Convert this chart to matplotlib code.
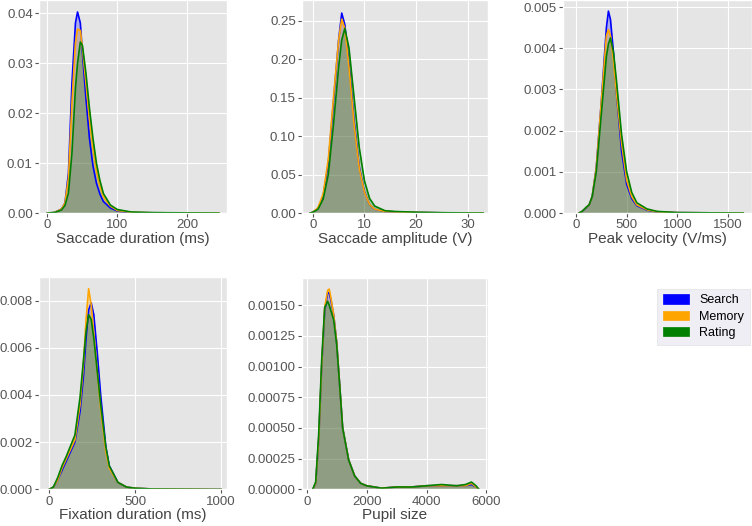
import matplotlib.pyplot as plt
from matplotlib.patches import Patch

plt.style.use("ggplot")
plt.rcParams["font.family"] = ["Liberation Sans", "DejaVu Sans"]

tasks = ["Search", "Memory", "Rating"]
colors = ["blue", "orange", "green"]

# density curves: x grid + one density list per task
sacc_dur_x = [0, 10, 20, 25, 30, 35, 40, 43, 47, 50, 55, 60, 65, 70, 75, 80, 90, 100, 120, 150, 200, 245]
sacc_dur = {
    "Search": [0, 0.0001, 0.0008, 0.002, 0.008, 0.026, 0.038, 0.0402, 0.038, 0.032, 0.023, 0.015, 0.0095, 0.006, 0.0038, 0.0023, 0.001, 0.0004, 0.0001, 0.00005, 0.00002, 0],
    "Memory": [0, 0.0001, 0.0008, 0.002, 0.007, 0.022, 0.034, 0.0368, 0.0365, 0.033, 0.026, 0.019, 0.013, 0.0085, 0.0055, 0.0033, 0.0014, 0.0005, 0.00015, 0.00005, 0.00002, 0],
    "Rating": [0, 0.0001, 0.0006, 0.0015, 0.004, 0.012, 0.025, 0.030, 0.0342, 0.0335, 0.028, 0.021, 0.015, 0.010, 0.0065, 0.0039, 0.0016, 0.0007, 0.0002, 0.00008, 0.00003, 0],
}

sacc_amp_x = [-0.5, 0, 1, 2, 3, 4, 5, 5.6, 6.2, 7, 8, 9, 10, 11, 12, 14, 16, 20, 25, 33]
sacc_amp = {
    "Search": [0, 0.001, 0.006, 0.022, 0.065, 0.145, 0.225, 0.26, 0.245, 0.195, 0.12, 0.06, 0.028, 0.011, 0.005, 0.002, 0.0015, 0.0008, 0.0003, 0],
    "Memory": [0, 0.001, 0.007, 0.025, 0.07, 0.15, 0.225, 0.252, 0.24, 0.19, 0.115, 0.058, 0.027, 0.011, 0.005, 0.002, 0.0015, 0.0008, 0.0003, 0],
    "Rating": [0, 0.001, 0.005, 0.018, 0.05, 0.115, 0.19, 0.225, 0.24, 0.215, 0.15, 0.085, 0.042, 0.019, 0.009, 0.003, 0.002, 0.001, 0.0004, 0],
}

peak_vel_x = [30, 60, 100, 130, 160, 200, 250, 300, 320, 340, 370, 400, 450, 500, 550, 600, 700, 800, 1000, 1300, 1650]
peak_vel = {
    "Search": [0, 0.00004, 0.00012, 0.0002, 0.0004, 0.0011, 0.0027, 0.0045, 0.0049, 0.0047, 0.0039, 0.0029, 0.0015, 0.0007, 0.00035, 0.00018, 0.00007, 0.00003, 0.00001, 0.000005, 0],
    "Memory": [0, 0.00004, 0.00013, 0.0002, 0.0004, 0.0011, 0.0027, 0.0043, 0.00445, 0.0043, 0.0037, 0.0029, 0.0017, 0.0008, 0.0004, 0.0002, 0.00008, 0.00003, 0.00001, 0.000005, 0],
    "Rating": [0, 0.00004, 0.00014, 0.0002, 0.0004, 0.001, 0.0024, 0.0038, 0.0041, 0.00425, 0.0039, 0.0032, 0.0019, 0.0010, 0.0005, 0.00025, 0.0001, 0.00004, 0.00001, 0.000005, 0],
}

fix_dur_x = [0, 25, 50, 75, 100, 150, 180, 200, 215, 230, 245, 260, 280, 300, 330, 350, 400, 450, 500, 600, 800, 1000]
fix_dur = {
    "Search": [0, 0.0001, 0.0004, 0.0008, 0.0012, 0.002, 0.0033, 0.0048, 0.0064, 0.0076, 0.0079, 0.0074, 0.0058, 0.0040, 0.0018, 0.0010, 0.0003, 0.0001, 0.00005, 0.00002, 0.00001, 0],
    "Memory": [0, 0.0001, 0.0004, 0.0009, 0.0013, 0.0021, 0.0036, 0.0053, 0.0072, 0.0085, 0.0078, 0.0066, 0.0050, 0.0034, 0.0016, 0.0009, 0.0003, 0.0001, 0.00005, 0.00002, 0.00001, 0],
    "Rating": [0, 0.0001, 0.0005, 0.001, 0.0014, 0.0023, 0.0039, 0.0055, 0.0067, 0.0074, 0.0072, 0.0064, 0.0050, 0.0036, 0.0018, 0.0010, 0.0003, 0.0001, 0.00005, 0.00002, 0.00001, 0],
}

pupil_x = [200, 300, 400, 500, 600, 700, 750, 800, 900, 1000, 1100, 1200, 1400, 1600, 1800, 2000, 2500, 3000, 3500, 4000, 4500, 5000, 5300, 5500, 5650, 5750]
pupil = {
    "Search": [0, 0.00005, 0.0004, 0.001, 0.00145, 0.0016, 0.0016, 0.00155, 0.00142, 0.0012, 0.00085, 0.0005, 0.00024, 0.00011, 0.00005, 0.00003, 0.00001, 0.00002, 0.00002, 0.00003, 0.00003, 0.00003, 0.00003, 0.00004, 0.00002, 0],
    "Memory": [0, 0.00005, 0.0004, 0.001, 0.00148, 0.00162, 0.00163, 0.00157, 0.00142, 0.0012, 0.00085, 0.0005, 0.00024, 0.00011, 0.00005, 0.00003, 0.00001, 0.00002, 0.00002, 0.00003, 0.00003, 0.00003, 0.00003, 0.00005, 0.00002, 0],
    "Rating": [0, 0.00006, 0.00045, 0.00105, 0.00148, 0.00153, 0.0015, 0.00146, 0.00138, 0.00118, 0.00085, 0.0005, 0.00024, 0.00011, 0.00005, 0.00003, 0.00001, 0.00002, 0.00002, 0.00003, 0.00004, 0.00003, 0.00004, 0.00006, 0.00003, 0],
}

panels = [
    ("Saccade duration (ms)", sacc_dur_x, sacc_dur, (-12, 257), 0.0426, [0, 100, 200], [0, 0.01, 0.02, 0.03, 0.04], "{:.2f}"),
    ("Saccade amplitude (V)", sacc_amp_x, sacc_amp, (-2.1, 33.9), 0.277, [0, 10, 20, 30], [0, 0.05, 0.1, 0.15, 0.2, 0.25], "{:.2f}"),
    ("Peak velocity (V/ms)", peak_vel_x, peak_vel, (-128, 1737), 0.00517, [0, 500, 1000, 1500], [0, 0.001, 0.002, 0.003, 0.004, 0.005], "{:.3f}"),
    ("Fixation duration (ms)", fix_dur_x, fix_dur, (-58, 1035), 0.009, [0, 500, 1000], [0, 0.002, 0.004, 0.006, 0.008], "{:.3f}"),
    ("Pupil size", pupil_x, pupil, (-157, 6043), 0.00172, [0, 2000, 4000, 6000], [0, 0.00025, 0.0005, 0.00075, 0.001, 0.00125, 0.0015], "{:.5f}"),
]

positions = [
    [0.052, 0.595, 0.25, 0.405],
    [0.4016, 0.595, 0.247, 0.405],
    [0.7487, 0.595, 0.2513, 0.405],
    [0.052, 0.0695, 0.25, 0.404],
    [0.4016, 0.0695, 0.247, 0.402],
]

fig = plt.figure(figsize=(7.52, 5.26), dpi=100)
fig.patch.set_facecolor("white")

for pos, (label, xs, dens, xlim, ytop, xt, yt, fmt) in zip(positions, panels):
    ax = fig.add_axes(pos)
    for task, c in zip(tasks, colors):
        ax.fill_between(xs, dens[task], color=c, alpha=0.25, lw=0)
        ax.plot(xs, dens[task], color=c, lw=1.2)
    ax.set_xlim(*xlim)
    ax.set_ylim(0, ytop)
    ax.set_xticks(xt)
    ax.set_yticks(yt)
    ax.set_yticklabels([fmt.format(v) for v in yt])
    ax.set_xlabel(label, fontsize=11, color="#444444", labelpad=0.5)
    ax.tick_params(labelsize=9.5, colors="#555555", length=3, pad=1.5)

handles = [Patch(facecolor=c, edgecolor=c, label=t) for t, c in zip(tasks, colors)]
fig.legend(handles=handles, loc="upper left", bbox_to_anchor=(0.866, 0.463),
           fontsize=9, frameon=True, facecolor="#EAEAF2", edgecolor="#DDDDDD",
           handlelength=2.1, handleheight=0.75, handletextpad=0.8,
           borderpad=0.45, labelspacing=0.35, fancybox=False)

fig.savefig("out.png", dpi=100)
